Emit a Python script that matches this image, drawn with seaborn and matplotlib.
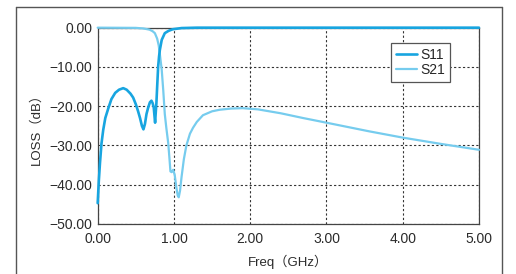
import pandas as pd
import matplotlib.pyplot as plt
from matplotlib.lines import Line2D
import seaborn as sns

# colours
COLOUR_S11 = '#18A5E0'
COLOUR_S21 = '#76CCEE'
COLOUR_TEXT = '#2b2b2b'

# S11 - reflection loss (dB) vs frequency (GHz)
s11_freq = [0.0, 0.015, 0.03, 0.05, 0.073, 0.1, 0.14, 0.18, 0.23, 0.28, 0.335,
            0.38, 0.43, 0.465, 0.5, 0.53, 0.555, 0.58, 0.60, 0.62, 0.64, 0.66,
            0.685, 0.705, 0.72, 0.735, 0.745, 0.753, 0.76, 0.77, 0.78, 0.793,
            0.805, 0.815, 0.84, 0.88, 0.93, 0.985, 1.1, 1.3, 5.0]
s11_loss = [-44.7, -39.0, -34.5, -29.5, -26.0, -23.0, -20.5, -18.2, -16.6, -15.8, -15.4,
            -15.8, -16.8, -17.8, -19.5, -21.3, -23.0, -25.0, -25.9, -24.5, -22.0, -20.5,
            -19.0, -18.6, -19.2, -20.3, -22.5, -24.2, -22.0, -19.2, -15.0, -9.9,
            -7.3, -5.7, -3.1, -1.4, -0.8, -0.4, -0.1, 0.0, 0.0]

# S21 - insertion loss (dB) vs frequency (GHz)
s21_freq = [0.0, 0.5, 0.6, 0.68, 0.72, 0.75, 0.78, 0.8, 0.82, 0.84, 0.86, 0.88,
            0.9, 0.925, 0.94, 0.954, 0.97, 0.99, 1.01, 1.03, 1.05, 1.063, 1.08,
            1.1, 1.13, 1.163, 1.21, 1.25, 1.3, 1.38, 1.5, 1.6, 1.75, 1.9, 2.1,
            2.4, 2.69, 3.0, 3.56, 4.0, 4.5, 5.0]
s21_loss = [0.0, -0.05, -0.2, -0.5, -0.9, -1.4, -2.8, -4.5, -7.5, -10.8, -16.0, -22.0,
            -25.5, -29.4, -33.0, -36.6, -36.8, -36.2, -37.5, -40.5, -42.8, -43.2, -41.5,
            -38.0, -33.5, -30.0, -27.0, -25.5, -24.0, -22.3, -21.3, -20.9, -20.6, -20.5, -20.8,
            -21.8, -23.0, -24.2, -26.4, -28.0, -29.6, -31.1]

x_ticks = [0, 1, 2, 3, 4, 5]
y_ticks = [0, -10, -20, -30, -40, -50]

df = pd.concat([
    pd.DataFrame({'freq': s11_freq, 'loss': s11_loss, 'trace': 'S11'}),
    pd.DataFrame({'freq': s21_freq, 'loss': s21_loss, 'trace': 'S21'}),
])

sns.set_style('white')
plt.rcParams['font.family'] = ['Liberation Sans', 'Noto Sans CJK SC', 'DejaVu Sans']
plt.rcParams['font.size'] = 10

fig, ax = plt.subplots(figsize=(5.16, 2.74), dpi=100)
fig.subplots_adjust(left=0.1893, right=0.9283, top=0.899, bottom=0.1825)

sns.lineplot(data=df, x='freq', y='loss', hue='trace', sort=False, estimator=None,
             palette={'S11': COLOUR_S11, 'S21': COLOUR_S21}, ax=ax, legend=False)
lines = ax.get_lines()
for ln in lines:
    ln.set_solid_capstyle('round')
    ln.set_clip_on(False)
lines[0].set_linewidth(1.9)
lines[1].set_linewidth(1.6)
lines[0].set_zorder(4)
lines[1].set_zorder(3)

ax.set_xlim(0, 5)
ax.set_ylim(-50, 0)
ax.set_xticks(x_ticks)
ax.set_yticks(y_ticks)
ax.set_xticklabels([f'{v:.2f}' for v in x_ticks])
ax.set_yticklabels([f'{v:.2f}'.replace('-', '\u2212') for v in y_ticks])
ax.tick_params(length=0, colors=COLOUR_TEXT, labelsize=10)
ax.tick_params(axis='x', pad=6)
ax.tick_params(axis='y', pad=4)

ax.grid(True, color='#333333', linestyle=(0, (2, 2)), linewidth=0.8)
ax.set_axisbelow(True)
for sp in ax.spines.values():
    sp.set_visible(True)
    sp.set_color('#444444')
    sp.set_linewidth(0.9)

ax.set_xlabel('Freq（GHz）', color=COLOUR_TEXT, fontsize=9.5, labelpad=6)
ax.set_ylabel('LOSS（dB）', color=COLOUR_TEXT, fontsize=9.5, labelpad=5)

handles = [Line2D([], [], color=COLOUR_S11, lw=1.9), Line2D([], [], color=COLOUR_S21, lw=1.6)]
leg = ax.legend(handles, ['S11', 'S21'], loc='upper left', bbox_to_anchor=(0.769, 0.92),
                borderaxespad=0, fancybox=False, framealpha=1, edgecolor='#555555',
                fontsize=10, handlelength=1.5, handletextpad=0.3, labelspacing=0.05,
                borderpad=0.35)
leg.get_frame().set_linewidth(0.9)

# outer frame around the figure
fx = lambda px: px / 516
fy = lambda py: 1 - py / 274
for xs, ys in [([fx(16), fx(16)], [0, fy(7)]),
               ([fx(16), fx(502)], [fy(7), fy(7)]),
               ([fx(502), fx(502)], [fy(7), 0])]:
    fig.add_artist(Line2D(xs, ys, transform=fig.transFigure, color='#555555', lw=1))

plt.savefig('out.png', dpi=100)
plt.close()
